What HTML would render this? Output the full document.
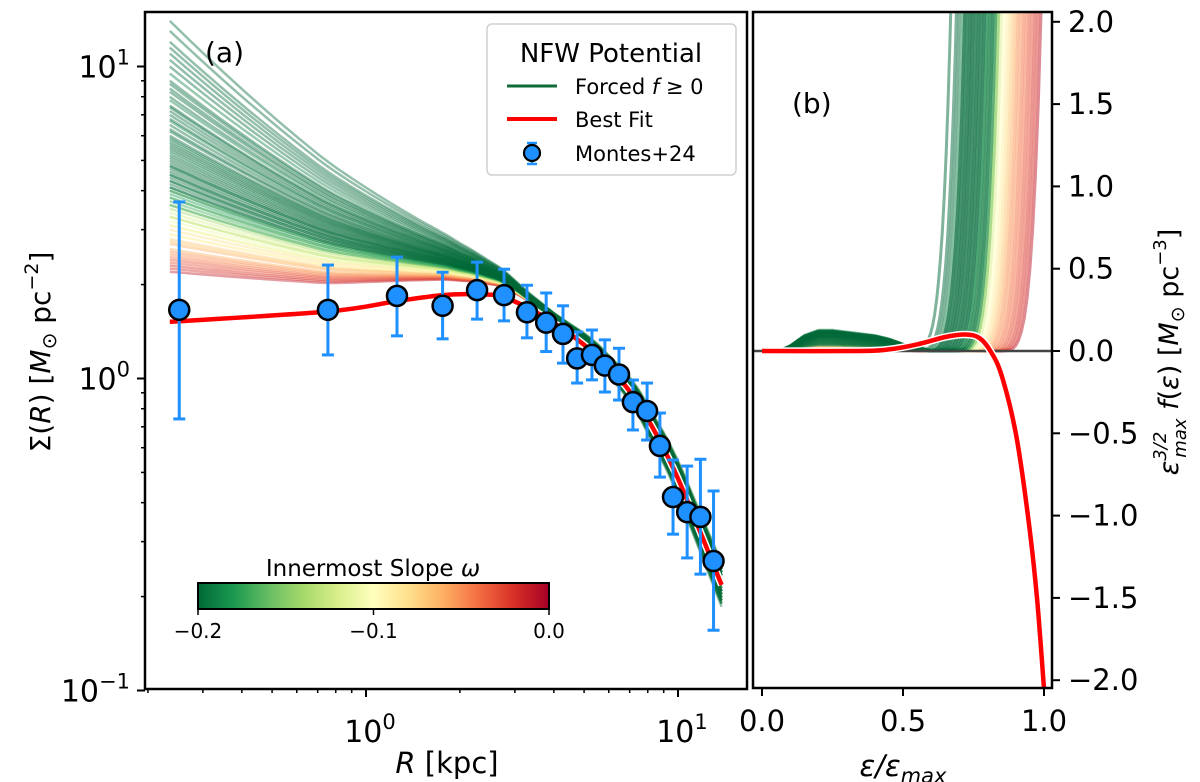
<!DOCTYPE html>
<html><head><meta charset="utf-8"><style>
body{margin:0;background:#fff}
svg{display:block;font-family:"DejaVu Sans","Liberation Sans",sans-serif}
</style></head><body>
<svg id="fig" width="1200" height="782" viewBox="0 0 1200 782" xmlns="http://www.w3.org/2000/svg">
<defs>
<linearGradient id="cmap" x1="0" x2="1" y1="0" y2="0">
<stop offset="0" stop-color="#006837"/><stop offset="0.1" stop-color="#1a9850"/><stop offset="0.2" stop-color="#66bd63"/><stop offset="0.3" stop-color="#a6d96a"/><stop offset="0.4" stop-color="#d9ef8b"/><stop offset="0.5" stop-color="#ffffbf"/><stop offset="0.6" stop-color="#fee08b"/><stop offset="0.7" stop-color="#fdae61"/><stop offset="0.8" stop-color="#f46d43"/><stop offset="0.9" stop-color="#d73027"/><stop offset="1" stop-color="#a50026"/>
</linearGradient>
<clipPath id="clipA"><rect x="145" y="12" width="602" height="677"/></clipPath>
<clipPath id="clipB"><rect x="753" y="12" width="299" height="676"/></clipPath>
</defs>
<g id="panelA">
<g id="aCurves" clip-path="url(#clipA)"></g>
<g id="aFit" clip-path="url(#clipA)"></g>
<g id="aData"></g>
<rect x="145" y="12" width="602" height="677" fill="none" stroke="#000" stroke-width="2.5"/>
<g id="aTicks"></g>
<text x="205" y="62" font-size="28">(a)</text>
<text x="447" y="773" font-size="29" text-anchor="middle"><tspan font-style="italic">R</tspan> [kpc]</text>
<text transform="translate(50,352) rotate(-90)" font-size="28" text-anchor="middle">Σ(<tspan font-style="italic">R</tspan>) [<tspan font-style="italic">M</tspan><tspan font-size="20" dy="6">⊙</tspan><tspan dy="-6"> pc</tspan><tspan font-size="19" dy="-12">−2</tspan><tspan dy="12">]</tspan></text>
<g>
<rect x="487" y="24" width="249" height="151" rx="5" fill="#fff" fill-opacity="0.85" stroke="#d0d0d0" stroke-width="1.5"/>
<text x="611" y="62" font-size="26" text-anchor="middle">NFW Potential</text>
<line x1="507" y1="86" x2="557" y2="86" stroke="#0e6b36" stroke-width="3"/>
<text x="575" y="94" font-size="21">Forced <tspan font-style="italic">f</tspan> ≥ 0</text>
<line x1="507" y1="119" x2="557" y2="119" stroke="#ff0000" stroke-width="4"/>
<text x="575" y="127" font-size="21">Best Fit</text>
<line x1="532" y1="143" x2="532" y2="164" stroke="#1e90ff" stroke-width="2.5"/>
<line x1="527" y1="143" x2="537" y2="143" stroke="#1e90ff" stroke-width="2.5"/>
<line x1="527" y1="164" x2="537" y2="164" stroke="#1e90ff" stroke-width="2.5"/>
<circle cx="532" cy="153" r="8" fill="#1e90ff" stroke="#000" stroke-width="2.2"/>
<text x="575" y="161" font-size="21">Montes+24</text>
</g>
<g>
<text x="373" y="576" font-size="23" text-anchor="middle">Innermost Slope <tspan font-style="italic">ω</tspan></text>
<rect x="198" y="583" width="351" height="26" fill="url(#cmap)" stroke="#000" stroke-width="2"/>
<line x1="198" y1="609" x2="198" y2="615" stroke="#000" stroke-width="1.5"/><line x1="373.5" y1="609" x2="373.5" y2="615" stroke="#000" stroke-width="1.5"/><line x1="549" y1="609" x2="549" y2="615" stroke="#000" stroke-width="1.5"/>
<text x="198" y="638" font-size="20" text-anchor="middle">−0.2</text>
<text x="373.5" y="638" font-size="20" text-anchor="middle">−0.1</text>
<text x="549" y="638" font-size="20" text-anchor="middle">0.0</text>
</g>
</g>
<g id="panelB">
<g id="bCurves" clip-path="url(#clipB)"></g>
<line x1="753" y1="351" x2="1052" y2="351" stroke="#444" stroke-width="2.5"/>
<g id="bFit" clip-path="url(#clipB)"></g>
<rect x="753" y="12" width="299" height="676" fill="none" stroke="#000" stroke-width="2.5"/>
<g id="bTicks"></g>
<text x="792" y="113" font-size="28">(b)</text>
<text x="903" y="776" font-size="29" text-anchor="middle" font-style="italic">ε/ε<tspan font-size="21" dy="7">max</tspan></text>
<text transform="translate(1178,352) rotate(-90)" font-size="27" text-anchor="middle"><tspan font-style="italic">ε</tspan><tspan font-size="18" font-style="italic" dy="-12">3/2</tspan><tspan font-size="18" font-style="italic" dx="-26" dy="20">max</tspan><tspan dy="-8"> </tspan><tspan font-style="italic">f</tspan>(<tspan font-style="italic">ε</tspan>) [<tspan font-style="italic">M</tspan><tspan font-size="19" dy="6">⊙</tspan><tspan dy="-6"> pc</tspan><tspan font-size="18" dy="-12">−3</tspan><tspan dy="12">]</tspan></text>
</g>
</svg>
<script>
// ---- Panel (a) data ----
const dataR = [0.252,0.755,1.257,1.76,2.27,2.77,3.28,3.78,4.28,4.75,5.30,5.83,6.47,7.17,7.96,8.75,9.64,10.7,11.8,13.0];
const dataS = [1.66,1.66,1.84,1.71,1.92,1.85,1.63,1.51,1.39,1.16,1.19,1.10,1.03,0.84,0.787,0.608,0.417,0.373,0.36,0.26];
const dataHi = [3.68,2.31,2.45,2.19,2.36,2.24,1.99,1.88,1.71,1.41,1.43,1.33,1.25,0.989,0.967,0.775,0.548,0.524,0.551,0.436];
const dataLo = [0.742,1.19,1.37,1.34,1.55,1.53,1.35,1.22,1.12,0.967,0.99,0.905,0.853,0.684,0.635,0.483,0.317,0.266,0.236,0.156];
const fitR = [0.235,0.755,1.257,1.76,2.27,2.77,3.78,5.3,7.17,9.64,13.8];
const fitS = [1.52,1.64,1.77,1.85,1.86,1.82,1.56,1.22,0.88,0.518,0.218];
const innerVals = [2.2,2.25,2.3,2.35,2.4,2.45,2.5,2.55,2.6,2.7,2.75,2.8,2.9,3.0,3.1,2.9,3.1,3.2,3.3,3.4,3.3,3.5,3.6,3.8,4.0,3.6,3.7,3.8,3.9,4.0,4.1,4.1,4.2,4.3,4.3,4.4,4.5,4.5,4.6,4.7,4.8,4.8,4.9,5.0,5.1,5.2,5.3,5.4,5.5,5.6,5.7,5.8,5.9,6.0,6.2,6.3,6.5,6.7,6.8,7.0,7.2,7.4,7.5,7.8,8.0,8.3,8.5,8.8,9.0,9.5,10.0,10.5,11.0,11.5,12.0,13.0,14.0];
const innerOmega = [-0.01,-0.02,-0.02,-0.03,-0.03,-0.04,-0.05,-0.05,-0.06,-0.06,-0.07,-0.07,-0.08,-0.08,-0.09,-0.10,-0.11,-0.11,-0.12,-0.12,-0.13,-0.14,-0.15,-0.15,-0.16,-0.17,-0.17,-0.18,-0.18,-0.19,-0.19,-0.2,-0.2,-0.2,-0.19,-0.2,-0.2,-0.19,-0.2,-0.2,-0.2,-0.19,-0.2,-0.2,-0.2,-0.2,-0.19,-0.2,-0.2,-0.2,-0.2,-0.19,-0.2,-0.2,-0.2,-0.2,-0.2,-0.19,-0.2,-0.2,-0.2,-0.2,-0.2,-0.19,-0.2,-0.2,-0.2,-0.2,-0.2,-0.19,-0.2,-0.2,-0.2,-0.2,-0.2,-0.2,-0.2];
const tailOff = [0.03,-0.02,0.04,0.0,-0.04,0.02,0.05,-0.03,0.01,0.06,-0.05,0.02,-0.01,0.04,-0.06,0.03,0.0,-0.02,0.05,-0.04,0.01,0.07,-0.03,0.02,-0.05,0.04,0.0,-0.06,0.03,0.06,-0.02,0.01,-0.04,0.05,0.02,-0.07,0.03,0.0,-0.03,0.06,-0.01,0.04,-0.05,0.02,0.07,-0.02,0.0,0.05,-0.06,0.03,-0.03,0.06,0.01,-0.04,0.02,0.05,-0.01,0.03,-0.05,0.04,0.0,0.02,-0.03,0.05,-0.02,0.04,-0.05,0.01,0.03,-0.04,0.06,0.0,-0.02,0.03,-0.06,0.02,0.04];
const aTickMajor = [0.1,1,10];
const aTickLabelsY = ["−1","0","1"];
// ---- Panel (b) data ----
const fitE = [0,0.35,0.45,0.55,0.65,0.72,0.77,0.81,0.85,0.9,0.943,0.975,1.0];
const fitF = [0,0.0,0.01,0.04,0.085,0.1,0.08,0.0,-0.15,-0.5,-1.0,-1.5,-2.05];
const bumpE = [0,0.06,0.1,0.15,0.2,0.25,0.3,0.35,0.4,0.45,0.5,0.6];
const bumpF = [0,0,0.03,0.09,0.12,0.12,0.11,0.1,0.09,0.07,0.04,0.0];
const riseEps = [0.67,0.69,0.7,0.71,0.72,0.72,0.73,0.73,0.74,0.74,0.75,0.75,0.76,0.76,0.77,0.77,0.78,0.78,0.79,0.79,0.8,0.8,0.81,0.81,0.82,0.82,0.83,0.83,0.84,0.84,0.85,0.86,0.87,0.88,0.89,0.9,0.91,0.92,0.93,0.94,0.95,0.96,0.97,0.98,0.99];
const riseOmega = [-0.2,-0.2,-0.2,-0.19,-0.2,-0.2,-0.2,-0.19,-0.2,-0.2,-0.2,-0.2,-0.19,-0.2,-0.2,-0.2,-0.2,-0.19,-0.2,-0.2,-0.18,-0.19,-0.2,-0.17,-0.18,-0.2,-0.16,-0.19,-0.15,-0.14,-0.12,-0.1,-0.09,-0.08,-0.07,-0.06,-0.05,-0.05,-0.04,-0.04,-0.03,-0.03,-0.02,-0.02,-0.01];
const bumpAmp = [1.0,0.9,0.8,1.05,0.7,0.95,0.6,0.85,1.0,0.5,0.75,0.9,0.4,1.0,0.65,0.8,0.3,0.95,0.7,0.55,0.85,1.0,0.45,0.75,0.9,0.35,0.6,0.8,0.5,0.7,0.4,0.3,0.3,0.25,0.3,0.2,0.25,0.2,0.2,0.15,0.2,0.15,0.1,0.1,0.1];
const bTicksY = [-2,-1.5,-1,-0.5,0,0.5,1,1.5,2];
const bTicksX = [0,0.5,1];

const NS="http://www.w3.org/2000/svg";
const L=Math.log10;
function xa(r){return 366+312*L(r);}
function ya(s){return 378.5-312*L(s);}
function xb(e){return 762+282*e;}
function yb(f){return 351-164.6*f;}
function mk(tag,attrs,parent){const el=document.createElementNS(NS,tag);for(const k in attrs)el.setAttribute(k,attrs[k]);parent.appendChild(el);return el;}
function mkTxt(attrs,parent,parts){const t=mk('text',attrs,parent);parts.forEach(p=>{if(typeof p==='string'){t.appendChild(document.createTextNode(p));}else{const s=mk('tspan',p.a,t);s.textContent=p.t;}});return t;}
const cstops=["#006837","#1a9850","#66bd63","#a6d96a","#d9ef8b","#ffffbf","#fee08b","#fdae61","#f46d43","#d73027","#a50026"];
function hex(c){return [parseInt(c.slice(1,3),16),parseInt(c.slice(3,5),16),parseInt(c.slice(5,7),16)];}
function cmap(w){let t=Math.max(0,Math.min(1,(w+0.2)/0.2))*10;const i=Math.min(9,Math.floor(t));const f=t-i;const a=hex(cstops[i]),b=hex(cstops[i+1]);return "rgb("+a.map((v,k)=>Math.round(v+(b[k]-v)*f)).join(",")+")";}
function interp(xs,ys,x){if(x<=xs[0])return ys[0];for(let i=1;i<xs.length;i++){if(x<=xs[i]){const t=(x-xs[i-1])/(xs[i]-xs[i-1]);return ys[i-1]+(ys[i]-ys[i-1])*t;}}return ys[ys.length-1];}
function smoothPath(pts){let d="M"+pts[0][0].toFixed(1)+","+pts[0][1].toFixed(1);for(let i=0;i<pts.length-1;i++){const p0=pts[Math.max(0,i-1)],p1=pts[i],p2=pts[i+1],p3=pts[Math.min(pts.length-1,i+2)];d+=" C"+(p1[0]+(p2[0]-p0[0])/6).toFixed(1)+","+(p1[1]+(p2[1]-p0[1])/6).toFixed(1)+" "+(p2[0]-(p3[0]-p1[0])/6).toFixed(1)+","+(p2[1]-(p3[1]-p1[1])/6).toFixed(1)+" "+p2[0].toFixed(1)+","+p2[1].toFixed(1);}return d;}

// Panel a curves
const gA=document.getElementById('aCurves');
const lfR=fitR.map(L), lfS=fitS.map(L);
const r0=L(fitR[0]), r1=L(4.2), rEnd=L(fitR[fitR.length-1]);
const orderA=innerVals.map((v,i)=>i).sort((a,b)=>innerOmega[b]-innerOmega[a]);
orderA.forEach(i=>{
  const pts=[];const dIn=L(innerVals[i])-lfS[0];
  for(let k=0;k<=40;k++){
    const lr=r0+(rEnd-r0)*k/40;
    let t=Math.min(1,(lr-r0)/(r1-r0));const w=Math.pow(1-t,1.4);
    let v=Math.max(0,(lr-L(3))/(rEnd-L(3)));
    const ls=interp(lfR,lfS,lr)+dIn*w+tailOff[i]*v+0.025*(1-w)*(1-v);
    pts.push([xa(Math.pow(10,lr)),ya(Math.pow(10,ls))]);
  }
  const p=mk('path',{d:smoothPath(pts),fill:'none',stroke:cmap(innerOmega[i]),'stroke-width':2.5,'stroke-opacity':0.42},gA);
  
  
});
// best fit a
const gAF=document.getElementById('aFit');
const fdA=smoothPath(fitR.map((r,i)=>[xa(r),ya(fitS[i])]));
mk('path',{d:fdA,fill:'none',stroke:'#fff','stroke-width':7.5},gAF);
const rl=mk('path',{d:fdA,fill:'none',stroke:'#ff0000','stroke-width':4.5},gAF);


// data points
const gD=document.getElementById('aData');
dataR.forEach((r,i)=>{
  const x=xa(r);
  const g=mk('g',{},gD);
  
  
  mk('line',{x1:x,x2:x,y1:ya(dataHi[i]),y2:ya(dataLo[i]),stroke:'#1e90ff','stroke-width':3},g);
  mk('line',{x1:x-6,x2:x+6,y1:ya(dataHi[i]),y2:ya(dataHi[i]),stroke:'#1e90ff','stroke-width':3},g);
  mk('line',{x1:x-6,x2:x+6,y1:ya(dataLo[i]),y2:ya(dataLo[i]),stroke:'#1e90ff','stroke-width':3},g);
});
dataR.forEach((r,i)=>{
  const c=mk('circle',{cx:xa(r),cy:ya(dataS[i]),r:10,fill:'#1e90ff',stroke:'#000','stroke-width':2.5},gD);
  
  
});
// ticks a
const gT=document.getElementById('aTicks');
[0.1,1].forEach(dec=>{for(let m=1;m<=9;m++){const v=dec*m;const y=ya(v);if(y<12)continue;mk('line',{x1:145,x2:m==1?137:141,y1:y,y2:y,stroke:'#000','stroke-width':m==1?2:1.5},gT);}});
mk('line',{x1:145,x2:137,y1:ya(10),y2:ya(10),stroke:'#000','stroke-width':2},gT);
[0.1,1,10].forEach(dec=>{for(let m=1;m<=9;m++){const v=dec*m;const x=xa(v);if(x<145||x>747)continue;mk('line',{x1:x,x2:x,y1:689,y2:m==1?697:693,stroke:'#000','stroke-width':m==1?2:1.5},gT);}});
aTickMajor.forEach((v,i)=>{
  const t=mkTxt({x:130,y:ya(v)+11,'font-size':30,'text-anchor':'end'},gT,['10',{a:{'font-size':21,dy:-13},t:aTickLabelsY[i]}]);
  
  
});
[1,10].forEach((v,i)=>{
  const t=mkTxt({x:xa(v)+4,y:742,'font-size':30,'text-anchor':'middle'},gT,['10',{a:{'font-size':21,dy:-13},t:(i==0?'0':'1')}]);
  
  
});

// Panel b curves
const gB=document.getElementById('bCurves');
const orderB=riseEps.map((v,i)=>i).sort((a,b)=>riseOmega[b]-riseOmega[a]);
orderB.forEach(i=>{
  const c=riseEps[i];const st=c-0.16;const pts=[];
  for(let k=0;k<=100;k++){
    const e=k/100*Math.min(1,c+0.01);
    let f=interp(bumpE,bumpF,e)*bumpAmp[i];
    if(e>st){f+=2.1*Math.pow((e-st)/0.16,5);}
    pts.push([xb(e),yb(Math.min(f,2.3))]);
  }
  const p=mk('path',{d:'M'+pts.map(q=>q[0].toFixed(1)+','+q[1].toFixed(1)).join(' L'),fill:'none',stroke:cmap(riseOmega[i]),'stroke-width':3,'stroke-opacity':0.5},gB);
  
  
});
const gBF=document.getElementById('bFit');
const fdB=smoothPath(fitE.map((e,i)=>[xb(e),yb(fitF[i])]));
mk('path',{d:fdB,fill:'none',stroke:'#fff','stroke-width':7.5},gBF);
const rb=mk('path',{d:fdB,fill:'none',stroke:'#ff0000','stroke-width':4.5},gBF);


const gBT=document.getElementById('bTicks');
bTicksY.forEach(v=>{
  const y=yb(v);
  mk('line',{x1:1052,x2:1060,y1:y,y2:y,stroke:'#000','stroke-width':2},gBT);
  const t=mkTxt({x:1068,y:y+10,'font-size':29},gBT,[(v<0?'−':'')+Math.abs(v).toFixed(1)]);
  
  
});
bTicksX.forEach(v=>{
  const x=xb(v);
  mk('line',{x1:x,x2:x,y1:688,y2:696,stroke:'#000','stroke-width':2},gBT);
  const t=mkTxt({x:x,y:731,'font-size':29,'text-anchor':'middle'},gBT,[v.toFixed(1)]);
  
  
});
</script>
</body></html>
